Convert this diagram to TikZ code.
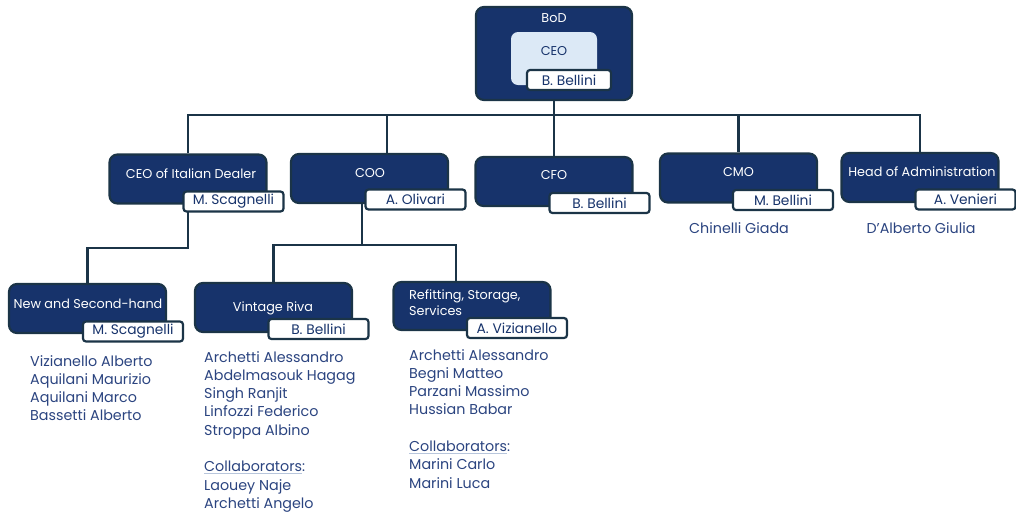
\documentclass[tikz,border=0pt]{standalone}
\usepackage{fontspec}
\setmainfont{Poppins}
\usetikzlibrary{backgrounds}
\definecolor{boxnavy}{HTML}{17336B}
\definecolor{edgedark}{HTML}{1B3447}
\definecolor{ceolight}{HTML}{DCE9F6}
\definecolor{namenavy}{HTML}{2B4480}
\definecolor{ulblue}{HTML}{B8C6DC}
\newcommand\ulword[1]{\setbox0\hbox{#1}\rlap{\textcolor{ulblue}{\rule[-2.5pt]{\wd0}{0.9pt}}}\box0}

\begin{document}
\begin{tikzpicture}[x=1pt,y=-1pt]
\tikzset{unit/.style={draw=edgedark, line width=2.2pt, fill=boxnavy, rounded corners=8pt, minimum width=157pt, minimum height=49pt, inner sep=0pt}}
\tikzset{unittext/.style={text=white, inner sep=0pt, font=\fontsize{12.8}{16}\selectfont}}
\tikzset{tab/.style={draw=edgedark, line width=2.2pt, fill=white, rounded corners=3pt, text=boxnavy, minimum width=100pt, minimum height=20pt, inner sep=0pt, font=\fontsize{13.8}{14}\selectfont}}
\tikzset{link/.style={draw=edgedark, line width=2.2pt}}
\tikzset{staff/.style={anchor=north west, align=left, inner sep=0pt, text=namenavy, font=\fontsize{14.3}{18.3}\selectfont}}
\useasboundingbox (0,0) rectangle (1016,515);

\node[unit, minimum width=156pt, minimum height=93pt] (bod) at (554,53.5) {};
\node[fill=ceolight, rounded corners=7pt, minimum width=86pt, minimum height=53pt, inner sep=0pt] (ceo) at (554,58.5) {};
\node[unittext] (bodT) at (554,18) {BoD};
\node[unittext, text=boxnavy] (ceoT) at (554,51) {CEO};
\node[tab, minimum width=84pt] (ceoN) at (569,80) {B. Bellini};

\node[unit] (ceoit) at (188,179) {};
\node[unittext] (ceoitT) at (191,174) {CEO of Italian Dealer};
\node[tab] (ceoitN) at (233.5,201.5) {M. Scagnelli};

\node[unit] (coo) at (369.5,178.5) {};
\node[unittext] (cooT) at (370,173) {COO};
\node[tab] (cooN) at (415.5,199.5) {A. Olivari};

\node[unit] (cfo) at (554,181.5) {};
\node[unittext] (cfoT) at (554,175) {CFO};
\node[tab] (cfoN) at (599.5,203) {B. Bellini};

\node[unit] (cmo) at (738.5,178) {};
\node[unittext] (cmoT) at (738.5,172) {CMO};
\node[tab] (cmoN) at (783,200) {M. Bellini};

\node[unit] (admin) at (920,177.5) {};
\node[unittext] (adminT) at (922,172) {Head of Administration};
\node[tab] (adminN) at (965.5,199.5) {A. Venieri};

\node[unit] (newsh) at (87.5,308.5) {};
\node[unittext] (newshT) at (88,304) {New and Second-hand};
\node[tab] (newshN) at (133,331.5) {M. Scagnelli};

\node[unit] (vintage) at (273.5,307.5) {};
\node[unittext] (vintageT) at (273,308) {Vintage Riva};
\node[tab] (vintageN) at (318.5,329) {B. Bellini};

\node[unit, minimum height=48pt] (refit) at (472,306) {};
\node[unittext, anchor=north west, align=left] (refitT) at (409,290) {Refitting, Storage,\\Services};
\node[tab] (refitN) at (517,328) {A. Vizianello};

% staff
\node[staff, anchor=center] (cmoS) at (739,228) {Chinelli Giada};
\node[staff, anchor=center] (adminS) at (921,228) {D’Alberto Giulia};
\node[staff] (newshS) at (30,355) {Vizianello Alberto\\Aquilani Maurizio\\Aquilani Marco\\Bassetti Alberto};
\node[staff] (vintageS) at (204,351) {Archetti Alessandro\\Abdelmasouk Hagag\\Singh Ranjit\\Linfozzi Federico\\Stroppa Albino\\[18.3pt]\ulword{Collaborators}:\\Laouey Naje\\Archetti Angelo};
\node[staff] (refitS) at (409,349) {Archetti Alessandro\\Begni Matteo\\Parzani Massimo\\Hussian Babar\\[18.3pt]\ulword{Collaborators}:\\Marini Carlo\\Marini Luca};

% connectors
\begin{scope}[on background layer]
\coordinate (bus) at (554,115);
\coordinate (cootop) at (387,154);
\coordinate (coobot) at (362,203);
\coordinate (split) at (362,245);
\coordinate (refittop) at (456,282);
\draw[link] (bod.south) -- (bus);
\draw[link] (ceoit.north) |- (admin.north |- bus) -- (admin.north);
\draw[link] (cootop) -- (cootop |- bus);
\draw[link] (cfo.north) -- (cfo.north |- bus);
\draw[link] (cmo.north) -- (cmo.north |- bus);
\draw[link] (ceoit.south) -- ++(0,43) -| (newsh.north);
\draw[link] (coobot) -- (split);
\draw[link] (vintage.north) |- (split);
\draw[link] (split) -| (refittop);
\end{scope}
\end{tikzpicture}
\end{document}
